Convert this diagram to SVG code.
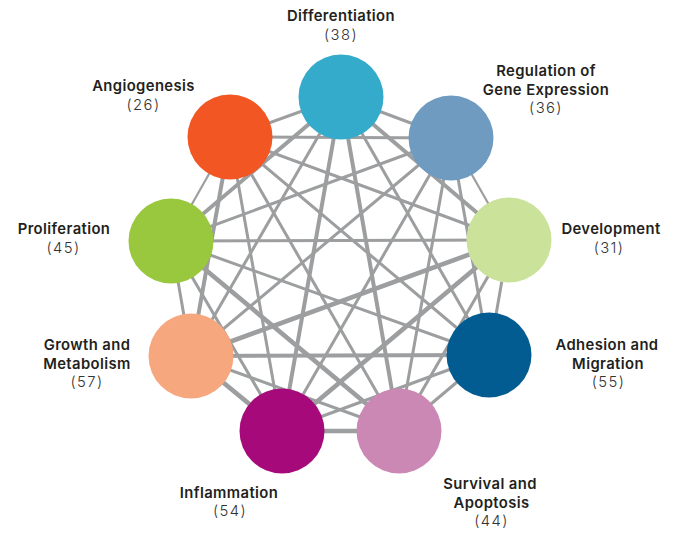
<svg xmlns="http://www.w3.org/2000/svg" width="683" height="533" viewBox="0 0 683 533">
<style>
.e{stroke:#9c9e9f;fill:none}
.w2{stroke-width:2.2}
.w3{stroke-width:3}
.w4{stroke-width:4}
.w5{stroke-width:4.6}
.lab{font-family:Inter,"Open Sans","Liberation Sans",sans-serif;font-weight:600;font-size:14.8px;fill:#231f20;text-anchor:middle;letter-spacing:0.4px}
.num{font-family:Inter,"Open Sans","Liberation Sans",sans-serif;font-weight:300;font-size:14.8px;fill:#333;text-anchor:middle;letter-spacing:1.4px}
</style>
<rect width="683" height="533" fill="#fff"/>
<g id="connectors">
<line class="e w3" x1="341" y1="97" x2="451" y2="138"/>
<line class="e w2" x1="451" y1="138" x2="509" y2="240"/>
<line class="e w3" x1="509" y1="240" x2="489" y2="355"/>
<line class="e w3" x1="489" y1="355" x2="399" y2="431"/>
<line class="e w5" x1="399" y1="431" x2="282" y2="431"/>
<line class="e w5" x1="282" y1="431" x2="191" y2="356"/>
<line class="e w3" x1="191" y1="356" x2="171" y2="241"/>
<line class="e w2" x1="171" y1="241" x2="230" y2="137"/>
<line class="e w3" x1="230" y1="137" x2="341" y2="97"/>
<line class="e w4" x1="341" y1="97" x2="509" y2="240"/>
<line class="e w3" x1="451" y1="138" x2="489" y2="355"/>
<line class="e w3" x1="509" y1="240" x2="399" y2="431"/>
<line class="e w3" x1="489" y1="355" x2="282" y2="431"/>
<line class="e w3" x1="399" y1="431" x2="191" y2="356"/>
<line class="e w3" x1="282" y1="431" x2="171" y2="241"/>
<line class="e w4" x1="191" y1="356" x2="230" y2="137"/>
<line class="e w4" x1="171" y1="241" x2="341" y2="97"/>
<line class="e w3" x1="230" y1="137" x2="451" y2="138"/>
<line class="e w3" x1="341" y1="97" x2="489" y2="355"/>
<line class="e w3" x1="451" y1="138" x2="399" y2="431"/>
<line class="e w5" x1="509" y1="240" x2="282" y2="431"/>
<line class="e w4" x1="489" y1="355" x2="191" y2="356"/>
<line class="e w5" x1="399" y1="431" x2="171" y2="241"/>
<line class="e w3" x1="282" y1="431" x2="230" y2="137"/>
<line class="e w3" x1="191" y1="356" x2="341" y2="97"/>
<line class="e w3" x1="171" y1="241" x2="451" y2="138"/>
<line class="e w3" x1="230" y1="137" x2="509" y2="240"/>
<line class="e w4" x1="341" y1="97" x2="399" y2="431"/>
<line class="e w3" x1="451" y1="138" x2="282" y2="431"/>
<line class="e w5" x1="509" y1="240" x2="191" y2="356"/>
<line class="e w3" x1="489" y1="355" x2="171" y2="241"/>
<line class="e w3" x1="399" y1="431" x2="230" y2="137"/>
<line class="e w4" x1="282" y1="431" x2="341" y2="97"/>
<line class="e w3" x1="191" y1="356" x2="451" y2="138"/>
<line class="e w3" x1="171" y1="241" x2="509" y2="240"/>
<line class="e w3" x1="230" y1="137" x2="489" y2="355"/>
</g>
<g id="differentiation">
<circle cx="341" cy="97" r="42.5" fill="#35abcc"/>
<text class="lab" x="341" y="21.2">Differentiation</text>
<text class="num" x="341" y="39.7">(38)</text>
</g>
<g id="regulation">
<circle cx="451" cy="138" r="42.5" fill="#6f9bc1"/>
<text class="lab" x="546" y="76">Regulation of</text>
<text class="lab" x="546" y="94.5">Gene Expression</text>
<text class="num" x="546" y="113">(36)</text>
</g>
<g id="development">
<circle cx="509" cy="240" r="42.5" fill="#cbe29b"/>
<text class="lab" x="611" y="234.3">Development</text>
<text class="num" x="609" y="252.8">(31)</text>
</g>
<g id="adhesion">
<circle cx="489" cy="355" r="42.5" fill="#035c91"/>
<text class="lab" x="607" y="350">Adhesion and</text>
<text class="lab" x="608" y="368.5">Migration</text>
<text class="num" x="608.5" y="387">(55)</text>
</g>
<g id="survival">
<circle cx="399" cy="431" r="42.5" fill="#cb88b4"/>
<text class="lab" x="490" y="489">Survival and</text>
<text class="lab" x="491.5" y="507.5">Apoptosis</text>
<text class="num" x="491.5" y="526">(44)</text>
</g>
<g id="inflammation">
<circle cx="282" cy="431" r="42.5" fill="#a60a7a"/>
<text class="lab" x="229" y="497.5">Inflammation</text>
<text class="num" x="230" y="516">(54)</text>
</g>
<g id="growth">
<circle cx="191" cy="356" r="42.5" fill="#f7a77d"/>
<text class="lab" x="87" y="350">Growth and</text>
<text class="lab" x="87" y="368.5">Metabolism</text>
<text class="num" x="87" y="387">(57)</text>
</g>
<g id="proliferation">
<circle cx="171" cy="241" r="42.5" fill="#99c73d"/>
<text class="lab" x="64" y="234.3">Proliferation</text>
<text class="num" x="63.5" y="252.8">(45)</text>
</g>
<g id="angiogenesis">
<circle cx="230" cy="137" r="42.5" fill="#f15623"/>
<text class="lab" x="143.5" y="91">Angiogenesis</text>
<text class="num" x="143.5" y="109.5">(26)</text>
</g>
</svg>
